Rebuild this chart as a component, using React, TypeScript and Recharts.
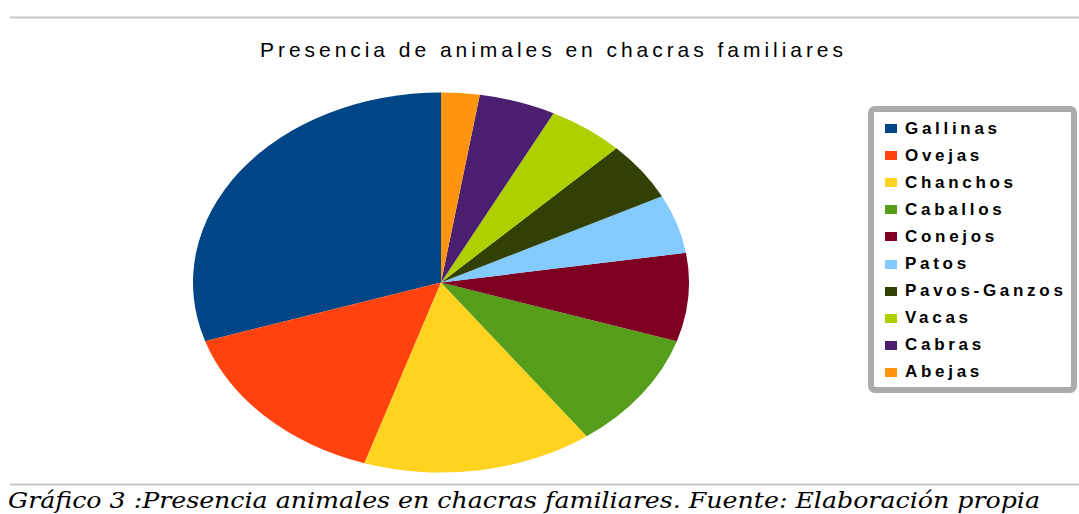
import React from "react";
import { Cell, Legend, Pie, PieChart } from "recharts";

const ANIMALS = [
  "Gallinas",
  "Ovejas",
  "Chanchos",
  "Caballos",
  "Conejos",
  "Patos",
  "Pavos-Ganzos",
  "Vacas",
  "Cabras",
  "Abejas",
];
const COUNTS = [12, 6, 6, 4, 3, 2, 2, 2, 2, 1];
const COLORS = [
  "#004586",
  "#ff420e",
  "#ffd320",
  "#579d1c",
  "#7e0021",
  "#83caff",
  "#314004",
  "#aecf00",
  "#4b1f6f",
  "#ff950e",
];

const TITLE = "Presencia de animales en chacras familiares";
const CAPTION =
  "Gráfico 3 :Presencia animales en chacras familiares. Fuente: Elaboración propia";

const data = ANIMALS.map((name, i) => ({ name, value: COUNTS[i] }));

// the original pie is squashed into an ellipse
const ASPECT = 248 / 190;

function EllipseSector(props: any) {
  const { cx, cy, outerRadius, startAngle, endAngle, fill } = props;
  const ry = outerRadius;
  const rx = outerRadius * ASPECT;
  const rad = Math.PI / 180;
  const pt = (a: number) => [
    cx + rx * Math.cos(-a * rad),
    cy + ry * Math.sin(-a * rad),
  ];
  const [x1, y1] = pt(startAngle);
  const [x2, y2] = pt(endAngle);
  const large = Math.abs(endAngle - startAngle) > 180 ? 1 : 0;
  const sweep = endAngle > startAngle ? 0 : 1;
  return (
    <path
      d={`M${cx},${cy}L${x1},${y1}A${rx},${ry} 0 ${large} ${sweep} ${x2},${y2}Z`}
      fill={fill}
      stroke="none"
    />
  );
}

function LegendBox({ payload }: any) {
  const items = (payload && payload.length
    ? [...payload]
    : ANIMALS.map((a, i) => ({ value: a, color: COLORS[i] }))
  ).sort((a: any, b: any) => ANIMALS.indexOf(a.value) - ANIMALS.indexOf(b.value));
  return (
    <div
      style={{
        width: 209,
        height: 287,
        boxSizing: "border-box",
        border: "6px solid #ababab",
        borderRadius: 7,
        background: "#fff",
        padding: "3px 0 0 11px",
      }}
    >
      {items.map((entry: any, i: number) => (
        <div
          key={entry.value}
          style={{ display: "flex", alignItems: "center", height: 27.1 }}
        >
          <span
            style={{
              display: "inline-block",
              width: 12,
              height: 9,
              marginRight: 8,
              background: COLORS[ANIMALS.indexOf(entry.value)] ?? entry.color ?? COLORS[i],
            }}
          />
          <span
            style={{
              fontFamily: "'Liberation Sans', Arial, sans-serif",
              fontWeight: 700,
              fontSize: 17,
              letterSpacing: 3.7,
              color: "#000",
              whiteSpace: "nowrap",
            }}
          >
            {entry.value}
          </span>
        </div>
      ))}
    </div>
  );
}

export default function App() {
  return (
    <div
      style={{
        position: "absolute",
        left: 0,
        top: 0,
        width: 1079,
        height: 514,
        background: "#fff",
        overflow: "hidden",
      }}
    >
      <PieChart width={1079} height={514} margin={{ top: 0, right: 0, bottom: 0, left: 0 }}>
        <Pie
          data={data}
          dataKey="value"
          nameKey="name"
          cx={441}
          cy={282.5}
          outerRadius={190}
          startAngle={90}
          endAngle={450}
          stroke="none"
          shape={EllipseSector}
          isAnimationActive={false}
        >
          {data.map((d, i) => (
            <Cell key={d.name} fill={COLORS[i]} />
          ))}
        </Pie>
        <Legend
          layout="vertical"
          align="right"
          verticalAlign="top"
          content={<LegendBox />}
          wrapperStyle={{ left: 868, top: 106, width: 209, height: 287 }}
        />
      </PieChart>
      <svg
        width={1079}
        height={514}
        style={{ position: "absolute", left: 0, top: 0, pointerEvents: "none" }}
      >
        <line x1={10} x2={1079} y1={17.5} y2={17.5} stroke="#c8c8c8" strokeWidth={2} />
        <text
          x={260}
          y={57}
          fontFamily="'Liberation Sans', Arial, sans-serif"
          fontSize={21}
          fill="#000"
          textLength={583}
          lengthAdjust="spacing"
        >
          {TITLE}
        </text>
        <line x1={10} x2={1079} y1={484.5} y2={484.5} stroke="#c8c8c8" strokeWidth={2} />
        <text
          x={8}
          y={508}
          fontFamily="'DejaVu Serif', serif"
          fontStyle="italic"
          fontSize={22}
          fill="#000"
          textLength={1032}
          lengthAdjust="spacingAndGlyphs"
        >
          {CAPTION}
        </text>
      </svg>
    </div>
  );
}
